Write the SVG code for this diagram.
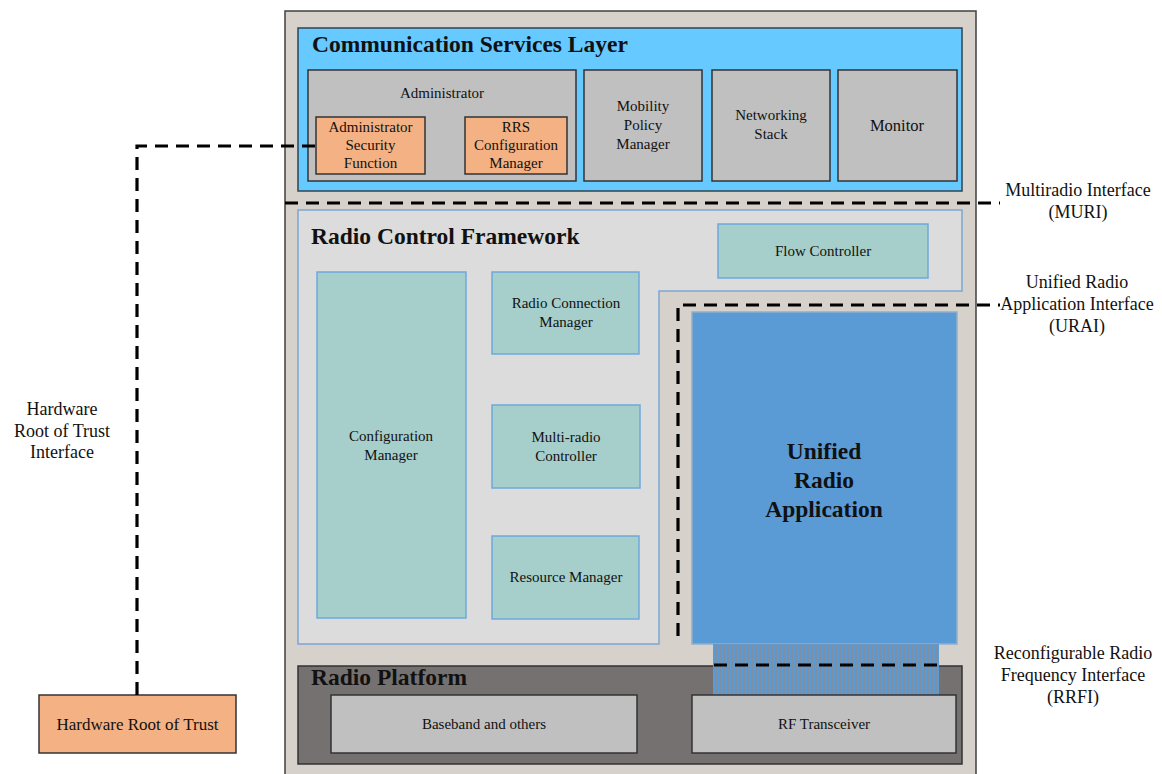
<svg xmlns="http://www.w3.org/2000/svg" width="1162" height="774" viewBox="0 0 1162 774">
<defs>
<pattern id="stripes" x="713" y="0" width="4" height="10" patternUnits="userSpaceOnUse">
<rect x="0" y="0" width="4" height="10" fill="#7f8fa3"/>
<rect x="0" y="0" width="2.6" height="10" fill="#5b9bd5"/>
</pattern>
<style>
.t{font-family:"Liberation Serif","Times New Roman",serif;fill:#111;text-anchor:middle;font-size:15px}
.big{font-size:16.5px}
.hr{font-size:17px}
.lab{font-family:"Liberation Serif","Times New Roman",serif;fill:#111;text-anchor:middle;font-size:18px}
.title{font-family:"Liberation Serif","Times New Roman",serif;fill:#111;font-weight:bold;font-size:23.5px}
.grey{fill:#c0c0c0;stroke:#333;stroke-width:1.5}
.orange{fill:#f4b183;stroke:#333;stroke-width:1.5}
.teal{fill:#a6cecb;stroke:#6fa8dc;stroke-width:1.5}
.dash{fill:none;stroke:#000;stroke-width:3.2;stroke-dasharray:13 8}
</style>
</defs>
<rect width="1162" height="774" fill="#ffffff"/>

<g id="outer">
<rect x="285" y="11" width="691" height="775" fill="#d6d1cb" stroke="#404040" stroke-width="1.5"/>
</g>

<g id="csl">
<rect x="298" y="28" width="664" height="163" fill="#66c9ff" stroke="#2e4455" stroke-width="1.5"/>
<text class="title" x="312" y="52">Communication Services Layer</text>
</g>

<g id="administrator">
<rect class="grey" x="308" y="70" width="268" height="111"/>
<text class="t" x="442" y="98">Administrator</text>
</g>
<g id="asf">
<rect class="orange" x="316" y="117" width="109" height="57"/>
<text class="t" x="370.500" y="132">Administrator</text>
<text class="t" x="370.500" y="150">Security</text>
<text class="t" x="370.500" y="168">Function</text>
</g>
<g id="rrs">
<rect class="orange" x="465" y="117" width="102" height="57"/>
<text class="t" x="516" y="132">RRS</text>
<text class="t" x="516" y="150">Configuration</text>
<text class="t" x="516" y="168">Manager</text>
</g>
<g id="mobility">
<rect class="grey" x="584" y="70" width="118" height="111"/>
<text class="t" x="643" y="111">Mobility</text>
<text class="t" x="643" y="130">Policy</text>
<text class="t" x="643" y="149">Manager</text>
</g>
<g id="networking">
<rect class="grey" x="712" y="70" width="118" height="111"/>
<text class="t" x="771" y="120">Networking</text>
<text class="t" x="771" y="139">Stack</text>
</g>
<g id="monitor">
<rect class="grey" x="838" y="70" width="119" height="111"/>
<text class="t big" x="897" y="131">Monitor</text>
</g>

<g id="rcf">
<path d="M298,210 H962 V291 H659 V644 H298 Z" fill="#dcdcdc" stroke="#7ea6cf" stroke-width="1.5"/>
<text class="title" x="311" y="244">Radio Control Framework</text>
</g>
<g id="flow-controller">
<rect class="teal" x="718" y="224" width="210" height="54"/>
<text class="t" x="823" y="256">Flow Controller</text>
</g>
<g id="configuration-manager">
<rect class="teal" x="317" y="272" width="149" height="346"/>
<text class="t" x="391" y="441">Configuration</text>
<text class="t" x="391" y="460">Manager</text>
</g>
<g id="radio-connection-manager">
<rect class="teal" x="492" y="272" width="147" height="82"/>
<text class="t" x="566" y="308">Radio Connection</text>
<text class="t" x="566" y="327">Manager</text>
</g>
<g id="multi-radio-controller">
<rect class="teal" x="492" y="405" width="148" height="83"/>
<text class="t" x="566" y="442">Multi-radio</text>
<text class="t" x="566" y="461">Controller</text>
</g>
<g id="resource-manager">
<rect class="teal" x="492" y="536" width="147" height="83"/>
<text class="t" x="566" y="582">Resource Manager</text>
</g>

<g id="ura">
<rect x="692" y="312" width="265" height="332" fill="#5b9bd5" stroke="#8fb0cf" stroke-width="1.5"/>
<text class="title" x="824" y="459" text-anchor="middle">Unified</text>
<text class="title" x="824" y="488" text-anchor="middle">Radio</text>
<text class="title" x="824" y="517" text-anchor="middle">Application</text>
</g>

<g id="radio-platform">
<rect x="298" y="666" width="664" height="98" fill="#767171" stroke="#333" stroke-width="1.5"/>
<text class="title" x="311" y="685">Radio Platform</text>
</g>
<g id="rrfi-bus">
<rect x="713" y="644" width="226" height="51" fill="url(#stripes)"/>
</g>
<g id="baseband">
<rect class="grey" x="331" y="695" width="306" height="58"/>
<text class="t" x="484" y="729">Baseband and others</text>
</g>
<g id="rf-transceiver">
<rect class="grey" x="692" y="695" width="264" height="58"/>
<text class="t" x="824" y="729">RF Transceiver</text>
</g>

<g id="hrot">
<rect class="orange" x="39" y="695" width="197" height="58"/>
<text class="t hr" x="137.500" y="730">Hardware Root of Trust</text>
</g>

<g id="connectors">
<path class="dash" d="M137,695 V146 H316"/>
<path class="dash" d="M285,203 H1000"/>
<path class="dash" d="M678,636 V305 H1000"/>
<path class="dash" d="M714,665 H940"/>
</g>

<g id="labels">
<text class="lab" x="62" y="415">Hardware</text>
<text class="lab" x="62" y="437">Root of Trust</text>
<text class="lab" x="62" y="458">Interface</text>
<text class="lab" x="1078" y="196">Multiradio Interface</text>
<text class="lab" x="1078" y="218">(MURI)</text>
<text class="lab" x="1077" y="288">Unified Radio</text>
<text class="lab" x="1077" y="310">Application Interface</text>
<text class="lab" x="1077" y="332">(URAI)</text>
<text class="lab" x="1073" y="659">Reconfigurable Radio</text>
<text class="lab" x="1073" y="681">Frequency Interface</text>
<text class="lab" x="1073" y="703">(RRFI)</text>
</g>
</svg>
